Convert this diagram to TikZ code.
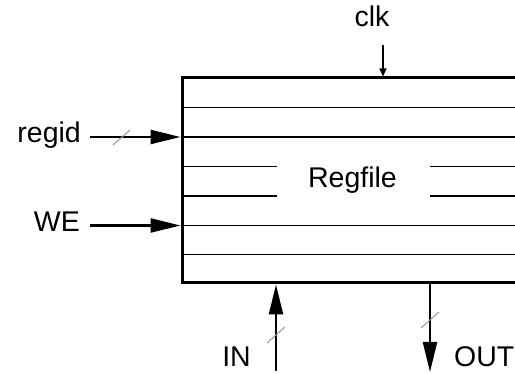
\documentclass[tikz,border=0pt]{standalone}
\usepackage{fontspec}
\setmainfont{Liberation Sans}
\usetikzlibrary{arrows.meta}
\begin{document}
\begin{tikzpicture}[x=1pt,y=-1pt,
  lbl/.style={inner sep=0pt,font=\fontsize{28.5}{33}\selectfont},
  rowline/.style={line width=1.5pt},
  bigarrow/.style={line width=2.2pt,-{Triangle[length=30pt,width=14pt]}},
  smallarrow/.style={line width=1.2pt,-{Triangle[length=8pt,width=7pt]}},
  busmark/.style={line width=1pt,draw=gray!80}]
\useasboundingbox (0,0) rectangle (515,374);
\clip (0,0) rectangle (515,374);
% register file box (open on the right, runs past the edge)
\node[draw,line width=3pt,inner sep=0pt,minimum width=358pt,minimum height=205pt] (rf) at (361,180.5) {};
\draw[rowline] (182,107.5) -- (540,107.5);
\draw[rowline] (182,137) -- (540,137);
\draw[rowline] (182,166.5) -- (277,166.5) (430,166.5) -- (540,166.5);
\draw[rowline] (182,196) -- (277,196) (430,196) -- (540,196);
\draw[rowline] (182,225.5) -- (540,225.5);
\draw[rowline] (182,254.5) -- (540,254.5);
\node[lbl,anchor=base] (title) at (352.5,188) {Regfile};
% labels
\node[lbl,anchor=base] (clk) at (372,26.5) {clk};
\node[lbl,anchor=base east] (regid) at (81,143) {regid};
\node[lbl,anchor=base east] (we) at (80,232) {WE};
\node[lbl,anchor=base east] (in) at (251,367) {IN};
\node[lbl,anchor=base west] (out) at (454,367) {OUT};
% connectors
\coordinate (clkS) at (383,45);
\draw[smallarrow] (clkS) -- (clkS |- rf.north);
\coordinate (regidS) at (90,137);
\draw[bigarrow] (regidS) -- (regidS -| rf.west);
\coordinate (weS) at (90,225.5);
\draw[bigarrow] (weS) -- (weS -| rf.west);
\coordinate (inS) at (276,371);
\draw[bigarrow] (inS) -- (inS |- rf.south);
\coordinate (outE) at (430,372);
\draw[bigarrow] (outE |- rf.south) -- (outE);
% bus-width marks
\draw[busmark] (113,145) -- (130,130);
\draw[busmark] (267,343) -- (285,327);
\draw[busmark] (421,328) -- (439,312);
\end{tikzpicture}
\end{document}
